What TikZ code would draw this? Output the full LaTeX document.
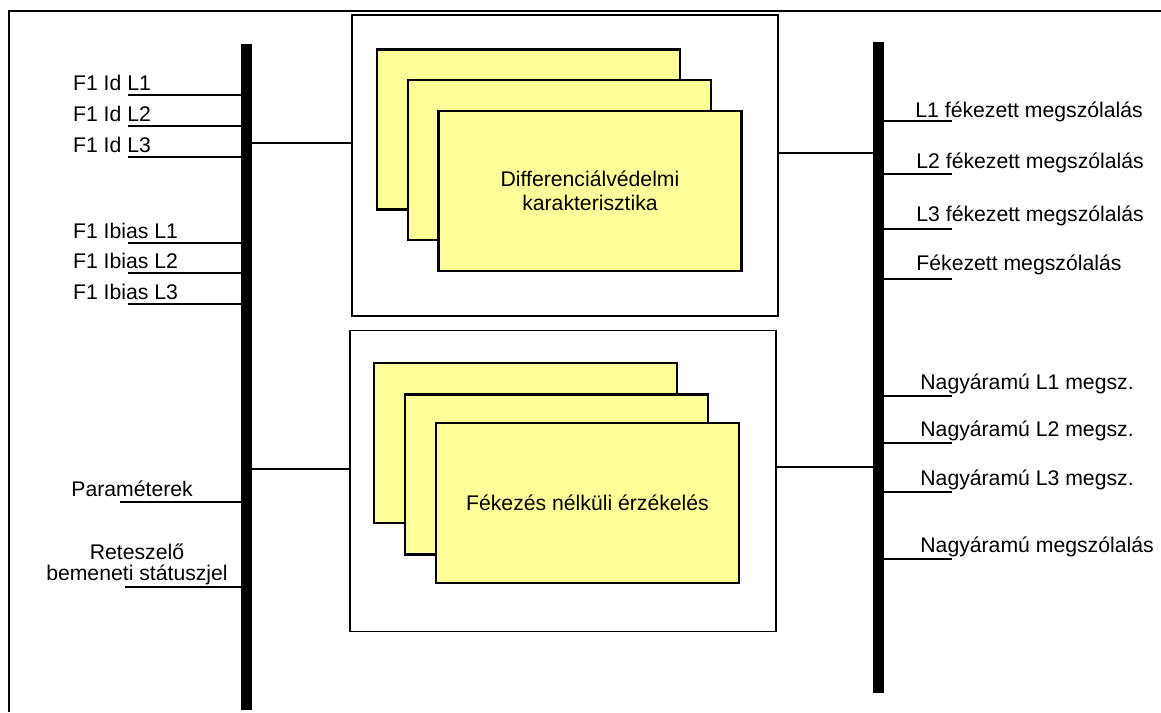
\documentclass[tikz,border=0pt]{standalone}
\usepackage{fontspec}
\setmainfont{Liberation Sans}
\usetikzlibrary{positioning}
\definecolor{cardyellow}{HTML}{FFFF99}

\begin{document}
\begin{tikzpicture}[
    x=0.5pt, y=-0.5pt,
    font=\fontsize{10.6}{11.7}\selectfont,
    bus/.style={rectangle, fill=black, inner sep=0pt, outer sep=0pt, minimum width=5.5pt},
    group/.style={rectangle, draw, line width=0.9pt, inner sep=0pt, outer sep=0pt, minimum width=213pt, minimum height=150.5pt},
    card/.style={rectangle, draw, line width=1.1pt, fill=cardyellow, inner sep=0pt, minimum width=151.5pt, minimum height=80pt, align=center},
    sig/.style={anchor=base west, inner sep=0pt},
    stub/.style={line width=0.85pt},
]

\useasboundingbox (0,0) rectangle (1161,712);

% Frame
\draw[line width=1.1pt] (1161,11) -- (9,11) -- (9,712);

% Buses
\node[bus, minimum height=333pt] (lbus) at (246,377) {};
\node[bus, minimum height=325.5pt] (rbus) at (878.5,367.5) {};

% Function groups
\node[group] (diff) at (564.7,165.8) {};
\node[group] (inst) at (562.9,480.9) {};

% Cards: restrained stage
\node[card] (diffA) at (528.3,129.5) {};
\node[card] (diffB) at (559.2,160.3) {};
\node[card] (diffC) at (590,190.7) {Differenciálvédelmi\\karakterisztika};

% Cards: unrestrained stage
\node[card] (instA) at (525.7,443.3) {};
\node[card] (instB) at (556.7,474.5) {};
\node[card] (instC) at (587.5,503) {Fékezés nélküli érzékelés};

% Inputs
\foreach \y/\txt [count=\i] in {95/F1 Id L1, 126/F1 Id L2, 157/F1 Id L3,
    243/F1 Ibias L1, 273/F1 Ibias L2, 304/F1 Ibias L3} {
  \node[sig] (in\i) at (72.7,\y-5) {\txt};
  \coordinate (inS\i) at (128,\y);
  \draw[stub] (inS\i) -- (inS\i -| lbus.west);
}
\node[sig] (par) at (71,496.7) {Paraméterek};
\coordinate (parS) at (120,502.3);
\draw[stub] (parS) -- (parS -| lbus.west);
\node[align=center, inner sep=0pt, anchor=base, font=\fontsize{10.6}{10.4}\selectfont] (blk) at (137,580) {Reteszelő\\bemeneti státuszjel};
\coordinate (blkS) at (125,587.3);
\draw[stub] (blkS) -- (blkS -| lbus.west);

% Outputs
\foreach \y [count=\i] in {120.7, 174, 229, 279.3, 396, 443.3, 491.7, 559.3} {
  \coordinate (outS\i) at (952,\y);
  \draw[stub] (outS\i -| rbus.east) -- (outS\i);
}
\node[sig] (out1) at (915,117) {L1 fékezett megszólalás};
\node[sig] (out2) at (916,168) {L2 fékezett megszólalás};
\node[sig] (out3) at (916,221.7) {L3 fékezett megszólalás};
\node[sig] (out4) at (916,270.7) {Fékezett megszólalás};
\node[sig] (out5) at (920,389.3) {Nagyáramú L1 megsz.};
\node[sig] (out6) at (920,436.7) {Nagyáramú L2 megsz.};
\node[sig] (out7) at (920,485) {Nagyáramú L3 megsz.};
\node[sig] (out8) at (920,552.7) {Nagyáramú megszólalás};

% Bus to group links
\coordinate (diffIn) at (diff.west |- 0,142.7);
\coordinate (instIn) at (inst.west |- 0,469.3);
\coordinate (diffOut) at (diff.east |- 0,153.3);
\coordinate (instOut) at (inst.east |- 0,467.3);
\draw[stub] (lbus.east |- diffIn) -- (diffIn);
\draw[stub] (lbus.east |- instIn) -- (instIn);
\draw[stub] (diffOut) -- (diffOut -| rbus.west);
\draw[stub] (instOut) -- (instOut -| rbus.west);

\end{tikzpicture}
\end{document}
